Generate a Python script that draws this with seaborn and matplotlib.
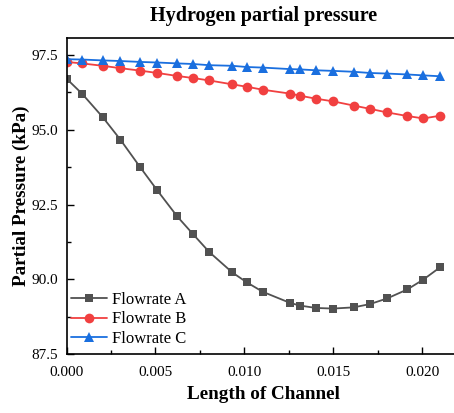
import numpy as np
import pandas as pd
import matplotlib
matplotlib.use("Agg")
import matplotlib.pyplot as plt
import seaborn as sns

sns.set_style("ticks")
plt.rcParams["font.family"] = ["Liberation Serif", "DejaVu Serif"]
plt.rcParams["mathtext.fontset"] = "stix"
plt.rcParams["text.color"] = "black"
plt.rcParams["axes.labelcolor"] = "black"

# Position along the channel (m)
length = [0.0000, 0.00087, 0.00204, 0.00303, 0.00413, 0.00511, 0.00623, 0.00713,
          0.00803, 0.00932, 0.01013, 0.01104, 0.01257, 0.01313, 0.01403, 0.01500,
          0.01615, 0.01707, 0.01804, 0.01917, 0.02007, 0.02101]

# Hydrogen partial pressure (kPa) for each flow rate
flow_a = [96.71, 96.21, 95.42, 94.67, 93.76, 92.97, 92.10, 91.50, 90.91, 90.23, 89.90,
          89.58, 89.21, 89.12, 89.04, 89.02, 89.06, 89.17, 89.36, 89.66, 89.99, 90.40]
flow_b = [97.27, 97.22, 97.14, 97.06, 96.98, 96.90, 96.80, 96.73, 96.65, 96.52, 96.44,
          96.34, 96.21, 96.14, 96.04, 95.95, 95.81, 95.70, 95.58, 95.46, 95.38, 95.47]
flow_c = [97.36, 97.35, 97.32, 97.30, 97.27, 97.25, 97.22, 97.20, 97.16, 97.14, 97.10,
          97.08, 97.03, 97.02, 96.99, 96.97, 96.94, 96.90, 96.88, 96.85, 96.82, 96.79]

series_names = ["Flowrate A", "Flowrate B", "Flowrate C"]
colors = ["#515151", "#F14040", "#1A6FDF"]
markers = ["s", "o", "^"]
marker_sizes = [5.5, 7, 7]

df = pd.concat(
    [pd.DataFrame({"Length": length, "Pressure": vals, "Series": name})
     for name, vals in zip(series_names, [flow_a, flow_b, flow_c])],
    ignore_index=True,
)

W, H = 454, 413
fig = plt.figure(figsize=(W / 100, H / 100), dpi=100)
left, right, top, bottom = 66.5, 460, 37.7, 354
ax = fig.add_axes([left / W, (H - bottom) / H, (right - left) / W, (bottom - top) / H])

for name, col, mk, ms in zip(series_names, colors, markers, marker_sizes):
    sns.lineplot(data=df[df["Series"] == name], x="Length", y="Pressure",
                 color=col, marker=mk, markersize=ms, markeredgewidth=0,
                 linewidth=1.3, label=name, ax=ax, sort=False)

ax.set_xlim(0, (right - left) / 17780)
ax.set_ylim(87.5, 98.08)
ax.set_xticks([0.000, 0.005, 0.010, 0.015, 0.020])
ax.set_xticklabels(["0.000", "0.005", "0.010", "0.015", "0.020"])
ax.set_yticks([87.5, 90.0, 92.5, 95.0, 97.5])
ax.set_yticklabels(["87.5", "90.0", "92.5", "95.0", "97.5"])
ax.set_xticks(np.arange(0.0025, 0.022, 0.005), minor=True)
ax.set_yticks([88.75, 91.25, 93.75, 96.25], minor=True)
ax.tick_params(which="both", direction="in", labelsize=11, width=1, colors="black")
ax.tick_params(which="major", length=5)
ax.tick_params(which="minor", length=3)
ax.tick_params(axis="x", which="major", pad=8.5)
ax.tick_params(axis="y", which="major", pad=6)
for s in ax.spines.values():
    s.set_linewidth(1.2)
    s.set_color("black")

ax.set_xlabel("Length of Channel", fontsize=13.8, fontweight="bold", labelpad=5)
ax.set_ylabel("Partial Pressure (kPa)", fontsize=13.8, fontweight="bold", labelpad=1)
ax.set_title("Hydrogen partial pressure", fontsize=14.5, fontweight="bold", pad=12)

ax.legend(loc="lower left", bbox_to_anchor=(0.0, 0.01), frameon=False, fontsize=12,
          handlelength=2.2, labelspacing=0.2, borderaxespad=0.0, borderpad=0.25,
          handletextpad=0.25)

fig.savefig("out.png", dpi=100)
